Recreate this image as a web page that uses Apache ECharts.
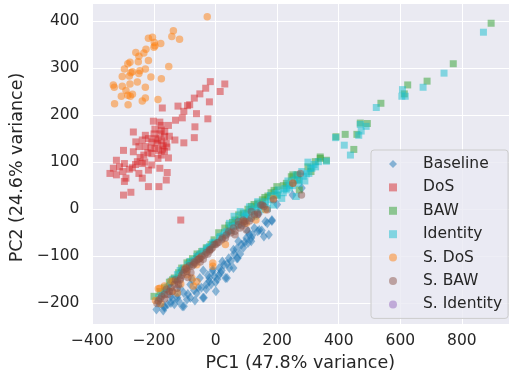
<!DOCTYPE html>
<html>
<head>
<meta charset="utf-8">
<script src="https://cdn.jsdelivr.net/npm/echarts@6/dist/echarts.min.js"></script>
<style>
  html, body { margin: 0; padding: 0; background: #ffffff; }
  #chart { width: 509px; height: 377px; }
</style>
</head>
<body>
<div id="chart"></div>
<script>
// PCA scores, [PC1, PC2]
const baseline = [
  [-192,-213],[-166,-206],[-145,-199],[-108,-206],[-67,-194],[-38,-188],[-15,-160],[6,-149],[32,-146],
  [58,-125],[38,-116],[72,-104],[69,-84],[116,-68],[100,-61],[157,-58],[173,-54],[142,-44],[183,-25],
  [168,-30],[-103,-178],[-82,-160],[-56,-167],[-20,-146],[12,-125],[43,-104],[74,-68],[105,-47],
  [-145,-185],[-124,-181],[-181,-202],[-82,-188],[-51,-146],[-9,-132],[22,-111],[58,-86],[84,-75],
  [126,-40],[-103,-206],[-41,-188],[1,-174],[37,-146],[69,-104],[105,-72],[17,-135],[-20,-153],
  [-46,-167],[-124,-188],[-155,-202],[137,-47],[116,-61],[90,-82],[27,-118],[-4,-142],[-30,-160],
  [-61,-178],[-93,-192],[-134,-202],[-166,-209],[-9,-128],[183,-23],[162,-26],[110,-54],
  [-150,-160],[-110,-130],[-60,-100],[-10,-75],[40,-50],[90,-30],[140,-10],[200,10],[250,30],[280,45],
  [-170,-215],[-120,-195],[-90,-180],[-70,-172],[-30,-170],[-25,-140],[0,-155],[10,-140],[20,-130],
  [45,-125],[50,-110],[80,-95],[95,-70],[120,-55],[150,-45],[-140,-192],[-115,-168],[-75,-150],[-40,-130],[60,-95]
];
const dos = [
  [-17,271],[30,266],[-32,257],[15,250],[-51,245],[-69,236],[-20,228],[-84,222],[-91,220],[-122,219],
  [-173,215],[-103,208],[-62,203],[-130,189],[-108,194],[-25,192],[-67,175],[-181,185],[-202,187],
  [-176,178],[-153,178],[-267,164],[-197,170],[-228,157],[-218,150],[-238,147],[-207,143],[-187,147],
  [-166,154],[-176,168],[-259,143],[-132,147],[-103,141],[-69,152],[-249,133],[-228,133],[-197,129],
  [-299,125],[-267,122],[-233,115],[-176,115],[-166,123],[-207,118],[-187,108],[-153,109],[-254,101],
  [-322,104],[-296,97],[-312,90],[-332,87],[-270,88],[-238,97],[-207,94],[-181,87],[-218,83],[-301,80],
  [-343,76],[-322,73],[-291,66],[-249,76],[-157,78],[-238,66],[-296,59],[-218,48],[-184,48],[-160,62],
  [-299,30],[-275,36],[-113,-23],
  [-190,140],[-180,160],[-170,135],[-160,140],[-200,160],[-185,125],[-175,145],[-165,165],[-195,150],
  [-210,130],[-150,155],[-172,128],[-158,132],[-220,120],[-245,110],[-260,95],[-280,85],[-230,100]
];
const baw = [
  [895,395],[772,309],[687,272],[624,264],[613,245],[537,225],[493,182],[470,183],[459,159],[421,159],
  [391,154],[449,127],[360,104],[340,108],[324,101],[246,69],[267,62],[340,111],[251,73],[199,48],
  [152,20],[137,13],[116,6],[90,-8],[272,41],[267,73],[43,-34],[63,-23],[-30,-82],[-93,-114],
  [-134,-146],[-166,-167],[10,-50],[-60,-95],[-110,-125],[-150,-155],[-180,-175],[30,-40],[180,35],
  [220,50],[300,90],[310,80],[160,25],[200,30],[-5,-65],[-45,-90],[-75,-105],[-120,-135],
  [230,55],[190,40],[170,28],[125,10],[105,0],[75,-12],[55,-28],[-15,-75],[-85,-112],[-140,-150],[-200,-185]
];
const identity = [
  [870,376],[742,289],[674,259],[607,254],[605,240],[616,240],[522,216],[470,180],[489,176],[473,166],
  [390,152],[418,136],[438,115],[465,157],[334,101],[308,87],[303,76],[262,73],[272,62],[241,51],
  [230,41],[194,34],[178,29],[313,87],[360,102],[256,62],[225,44],[204,41],[162,16],[147,9],[131,2],
  [116,-5],[100,-8],[84,-19],[69,-26],[53,-37],[37,-47],[262,27],[215,23],[188,9],[168,2],[126,-15],
  [105,-19],[147,-1],[137,16],[95,-15],[74,-33],[12,-61],[-20,-79],[-41,-89],[-61,-100],[-82,-111],
  [-103,-125],[-124,-139],[-145,-153],[-166,-174],[-186,-188],[-5,-70],[25,-55],[45,-30],[-30,-85],
  [-70,-108],[-115,-130],[-155,-165],[-175,-180],[60,-15],[80,-5],[110,5],[285,70],[320,95],[290,60],[250,50],
  [200,30],[220,35],[240,45],[180,20],[160,10],[140,5],[120,-2],[100,-12],[85,-25],[65,-35],[50,-45],
  [30,-50],[15,-58],[-10,-72],[-25,-82],[-50,-95],[-90,-118],[-135,-148],[270,55],[295,75],[325,90],
  [280,80],[235,60],[300,100]
];
const sDos = [
  [-27,409],[-137,379],[-142,367],[-117,361],[-218,363],[-205,365],[-199,354],[-178,352],[-197,347],
  [-200,344],[-226,340],[-259,333],[-233,332],[-249,325],[-218,316],[-251,313],[-278,312],[-285,309],
  [-152,303],[-296,298],[-270,292],[-246,294],[-228,298],[-275,290],[-303,282],[-249,288],[-280,283],
  [-210,281],[-176,277],[-254,270],[-332,264],[-329,259],[-303,261],[-278,266],[-228,259],[-291,252],
  [-270,244],[-306,240],[-285,242],[-228,236],[-277,240],[-187,233],[-238,230],[-328,224],[-284,222],
  [-186,-169],[-195,-194],[-178,-201],[-143,-174],[-124,-178],[-137,-153],[-113,-159],[-93,-139],
  [-77,-146],[-61,-154],[-98,-125],[-51,-104],[-9,-114],[32,-75],[90,-26],[162,-1],[188,23],[251,55],
  [-181,-168],[-145,-153],[-93,-128],[-61,-118],[-9,-121],[131,-23],[-166,-163],[-72,-163],[100,-30]
];
const sBaw = [
  [-166,-181],[-124,-153],[-72,-118],[-20,-89],[32,-61],[63,-47],[95,-30],[137,-8],[157,6],[275,76],
  [279,30],[188,20],[152,9],[137,-11],[116,-19],[90,-23],[74,-26],[79,-40],[100,-44],[43,-47],[63,-54],
  [251,55],[147,9],[116,-5],[95,-26],[58,-40],[22,-61],[1,-75],[-20,-86],[-51,-104],[-77,-121],
  [-93,-132],[-113,-146],[-134,-160],[-155,-181],[-186,-195],[-145,-167],[-67,-114],[-35,-97],[-4,-75],
  [74,-33],[126,-12],[168,-1],[-100,-128],[-85,-120],[-60,-108],[-45,-100],[-30,-92],[-10,-82],
  [10,-70],[20,-65],[-110,-140],[-130,-150],[-160,-170],[-175,-185],[-120,-160],[-140,-175],[-90,-145],[-80,-135],
  [-150,-175],[-105,-135],[-95,-125],[-70,-112],[-55,-106],[-25,-95],[-15,-85],[5,-72],[35,-55],[50,-50],
  [85,-35],[110,-25],[-180,-190],[-190,-200],[-165,-190],[-125,-168],[-115,-150],[-50,-112],[-40,-106]
];
const sIdentity = [];

const seriesNames = ['Baseline', 'DoS', 'BAW', 'Identity', 'S. DoS', 'S. BAW', 'S. Identity'];

const font = 'DejaVu Sans';
const textColor = '#262626';
const minus = v => String(v).replace('-', '\u2212');

function scatter(name, data, symbol, size, color) {
  return {
    name: name,
    type: 'scatter',
    data: data,
    symbol: symbol,
    symbolSize: size,
    itemStyle: { color: color },
    emphasis: { disabled: true }
  };
}

const chart = echarts.init(document.getElementById('chart'), null, { renderer: 'canvas' });
chart.setOption({
  animation: false,
  backgroundColor: '#ffffff',
  grid: {
    left: 85, right: -9, top: 3, bottom: 51,
    show: true, backgroundColor: '#eaeaf2', borderWidth: 0
  },
  xAxis: {
    type: 'value',
    min: -403, max: 953,
    splitNumber: 7,
    name: 'PC1 (47.8% variance)',
    nameLocation: 'middle',
    nameGap: 27,
    nameTextStyle: { fontFamily: font, fontSize: 17.5, color: textColor },
    axisLine: { show: false },
    axisTick: { show: false },
    axisLabel: {
      fontFamily: font, fontSize: 15.5, color: textColor, margin: 9,
      showMinLabel: false, showMaxLabel: false, formatter: minus
    },
    splitLine: { lineStyle: { color: '#ffffff', width: 1 } }
  },
  yAxis: {
    type: 'value',
    min: -244, max: 438,
    splitNumber: 7,
    name: 'PC2 (24.6% variance)',
    nameLocation: 'middle',
    nameGap: 59,
    nameTextStyle: { fontFamily: font, fontSize: 17.5, color: textColor, padding: [0, 8, 0, 0] },
    axisLine: { show: false },
    axisTick: { show: false },
    axisLabel: {
      fontFamily: font, fontSize: 15.5, color: textColor, margin: 12,
      showMinLabel: false, showMaxLabel: false, formatter: minus
    },
    splitLine: { lineStyle: { color: '#ffffff', width: 1 } }
  },
  legend: {
    data: seriesNames,
    orient: 'vertical',
    left: 371,
    top: 150,
    padding: [6, 6, 6, 18],
    itemWidth: 8,
    itemHeight: 8,
    itemGap: 7.4,
    backgroundColor: 'rgba(234,234,242,0.8)',
    borderColor: '#cccccc',
    borderWidth: 1,
    borderRadius: 3,
    textStyle: {
      fontFamily: font, fontSize: 15.5, color: textColor,
      lineHeight: 16, padding: [0, 0, 0, 21]
    }
  },
  series: [
    scatter('Baseline', baseline, 'diamond', [8, 10], 'rgba(31,119,180,0.62)'),
    scatter('DoS', dos, 'rect', 7, 'rgba(214,39,40,0.62)'),
    scatter('BAW', baw, 'rect', 7, 'rgba(44,160,44,0.62)'),
    scatter('Identity', identity, 'rect', 7, 'rgba(23,190,207,0.62)'),
    scatter('S. DoS', sDos, 'circle', 7.5, 'rgba(255,127,14,0.62)'),
    scatter('S. BAW', sBaw, 'circle', 7.5, 'rgba(140,86,75,0.62)'),
    scatter('S. Identity', sIdentity, 'circle', 7.5, 'rgba(148,103,189,0.62)')
  ]
});
</script>
</body>
</html>
